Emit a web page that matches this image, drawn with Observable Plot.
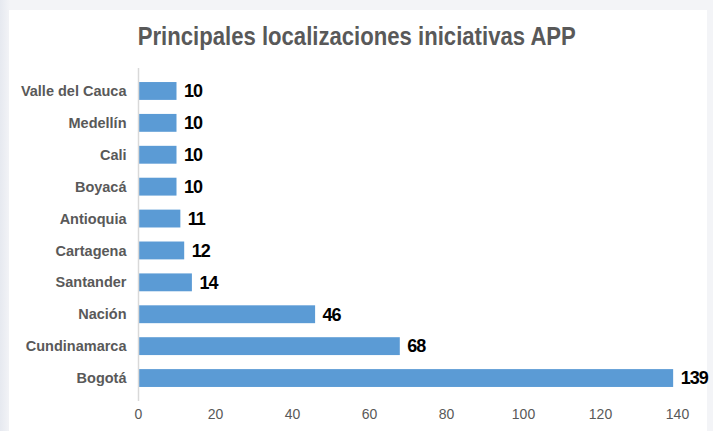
<!DOCTYPE html>
<html>
<head>
<meta charset="utf-8">
<script src="https://cdn.jsdelivr.net/npm/d3@7"></script>
<script src="https://cdn.jsdelivr.net/npm/@observablehq/plot@0.6"></script>
<style>
  html, body { margin: 0; padding: 0; }
  body { width: 713px; height: 431px; overflow: hidden; background: linear-gradient(90deg, #e6e9f0 0px, #f3f4f7 10px, #f3f4f7 100%); position: relative; font-family: "Liberation Sans Narrow", "Arial Narrow", "Liberation Sans", Arial, sans-serif; }
  #card { position: absolute; left: 9px; top: 10px; width: 698px; height: 430px; background: #fff; }
  #title { position: absolute; left: 0; top: 22px; width: 713px; text-align: center; font-size: 25px; font-weight: bold; color: #595959; transform: scaleX(0.885); transform-origin: 359px 0; }
  #chart { position: absolute; left: 0; top: 0; }
  #chart svg { background: transparent; overflow: visible; }
  #chart g[aria-label="text"] text { letter-spacing: -1px; }
</style>
</head>
<body>
<div id="card"></div>
<div id="title">Principales localizaciones iniciativas APP</div>
<div id="chart"></div>
<script>
const categories = ["Valle del Cauca", "Medellín", "Cali", "Boyacá", "Antioquia", "Cartagena", "Santander", "Nación", "Cundinamarca", "Bogotá"];
const values = [10, 10, 10, 10, 11, 12, 14, 46, 68, 139];
const xTicks = [0, 20, 40, 60, 80, 100, 120, 140];

const data = categories.map((c, i) => ({name: c, value: values[i]}));
const font = '"Liberation Sans Narrow", "Arial Narrow", "Liberation Sans", Arial, sans-serif';

const chart = Plot.plot({
  width: 713,
  height: 431,
  marginLeft: 138,
  marginRight: 36,
  marginTop: 68,
  marginBottom: 30,
  style: {background: "transparent", fontFamily: font, overflow: "visible"},
  x: {domain: [0, 140], ticks: xTicks, tickSize: 0, tickPadding: 8, label: null},
  y: {domain: categories, padding: 0.44, round: false, label: null, tickSize: 0, tickPadding: 12},
  marks: [
    Plot.barX(data, {x: "value", y: "name", fill: "#5b9bd5"}),
    Plot.ruleX([0], {stroke: "#d9d9d9", strokeWidth: 1.5}),
    Plot.text(data, {x: "value", y: "name", text: d => String(d.value), dx: 7, textAnchor: "start", fontWeight: "bold", fontSize: 18, fill: "#000"}),
    Plot.axisX({ticks: xTicks, tickSize: 0, tickPadding: 8, fontSize: 14, color: "#595959", label: null}),
    Plot.axisY({tickSize: 0, tickPadding: 12, fontSize: 14.5, fontWeight: "bold", color: "#595959", label: null})
  ]
});
document.getElementById("chart").appendChild(chart);
</script>
</body>
</html>
